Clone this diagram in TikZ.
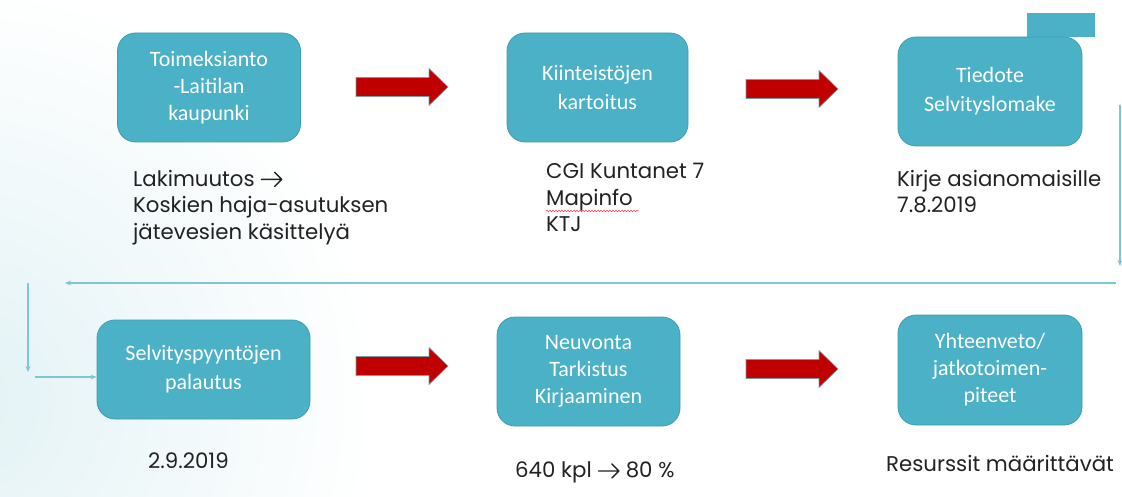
\documentclass[tikz,border=0pt]{standalone}
\usepackage{fontspec}
\setmainfont{Poppins}
\newfontfamily\boxfont{Carlito}
\usetikzlibrary{arrows.meta,decorations.pathmorphing}
\definecolor{boxteal}{HTML}{4BB1C6}
\definecolor{boxedge}{HTML}{3E9DB1}
\definecolor{arrred}{HTML}{C00000}
\definecolor{arredge}{HTML}{7A9CA6}
\definecolor{linkblue}{HTML}{7CC6D6}
\definecolor{bgtint}{HTML}{E2F2F5}
\definecolor{bodytext}{HTML}{222222}
\newcommand{\rarr}{\kern6pt\tikz[x=1pt,y=1pt,baseline=0pt]
  {\path (0,0) rectangle (22,14);
  \draw[bodytext, line width=1.4pt, line cap=round, line join=round]
  (0.7,7) -- (21,7) (14,14) -- (21,7) -- (14,0);}\kern6pt}
\tikzset{
  stepbox/.style={draw=boxedge, line width=0.8pt, fill=boxteal, rounded corners=18pt,
    text=white, align=center, inner sep=0pt,
    font=\boxfont\fontsize{22}{27}\selectfont},
  stepbox2/.style={stepbox, font=\boxfont\fontsize{22}{29}\selectfont},
  bodylabel/.style={anchor=north west, inner sep=0pt, align=left, text=bodytext,
    font=\fontsize{21.3}{26.5}\selectfont},
  redarrow/.style={fill=arrred, draw=arredge, line width=0.6pt, line join=miter},
  link/.style={draw=linkblue, line width=1.1pt, -{Stealth[length=6pt,width=5pt]}},
}
\newcommand{\bigarrow}[2]{% left x, center y
  \path[redarrow] (#1,#2-9.5) -- (#1+73,#2-9.5) -- (#1+73,#2-18.5) -- (#1+92,#2)
    -- (#1+73,#2+18.5) -- (#1+73,#2+9.5) -- (#1,#2+9.5) -- cycle;}
\begin{document}
\begin{tikzpicture}[x=1pt,y=-1pt]
\useasboundingbox (0,0) rectangle (1122,497);
% faint background tint on the left
\begin{scope}
  \clip (0,0) rectangle (1122,497);
  \shade[inner color=bgtint, outer color=white] (-40,400) circle (420);
\end{scope}
% small teal rectangle top right
\fill[boxteal] (1027,13) rectangle (1095,37);

% boxes
\node[stepbox, minimum width=183, minimum height=109] (b1) at (209,87.5)
  {Toimeksianto\\-Laitilan\\kaupunki};
\node[stepbox2, minimum width=181, minimum height=109] (b2) at (597.5,87.5)
  {Kiinteistöjen\\kartoitus};
\node[stepbox2, minimum width=184, minimum height=109] (b3) at (990,91.5)
  {Tiedote\\Selvityslomake};
\node[stepbox2, minimum width=213, minimum height=99] (b4) at (203.5,369.5)
  {Selvityspyyntöjen\\palautus};
\node[stepbox, minimum width=183, minimum height=109] (b5) at (588.5,371.5)
  {Neuvonta\\Tarkistus\\Kirjaaminen};
\node[stepbox, minimum width=184, minimum height=110] (b6) at (990,370)
  {Yhteenveto/\\jatkotoimen-\\piteet};

% red arrows
\bigarrow{356}{87}
\bigarrow{746}{89}
\bigarrow{356}{366}
\bigarrow{746}{369}

% texts
\node[bodylabel] (t1) at (133,170)
  {Lakimuutos\rarr\\Koskien haja-asutuksen\\jätevesien käsittelyä};
\node[bodylabel] (t2) at (546,163)
  {CGI Kuntanet 7\\Mapinfo\\KTJ};
\draw[red!75, line width=0.5pt, decorate,
  decoration={snake, amplitude=0.8pt, segment length=3pt}] (546,211) -- (639,211);
\node[bodylabel] (t3) at (897,170)
  {Kirje asianomaisille\\7.8.2019};
\node[bodylabel] (t4) at (148,453) {2.9.2019};
\node[bodylabel] (t5) at (515,462) {640 kpl\rarr80 \%};
\node[bodylabel] (t6) at (886,455) {Resurssit määrittävät};

% thin connectors
\coordinate (r1) at (1120,105);
\coordinate (r2) at (1120,266);
\coordinate (h1) at (1116,283);
\coordinate (h2) at (65,283);
\coordinate (v1) at (28,283);
\coordinate (v2) at (28,372);
\coordinate (s1) at (35,377);
\draw[link] (r1) -- (r2);
\draw[link] (h1) -- (h2);
\draw[link] (v1) -- (v2);
\draw[link] (s1) -- (s1 -| b4.west);
\end{tikzpicture}
\end{document}
